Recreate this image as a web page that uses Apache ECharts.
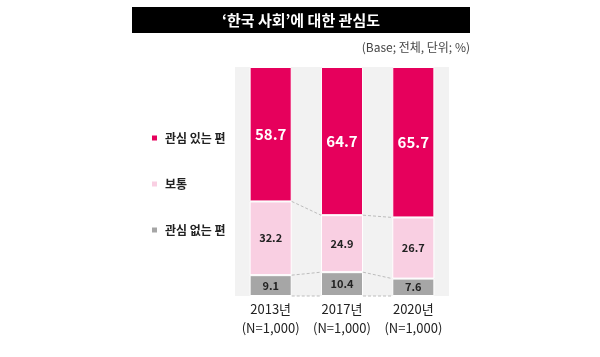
<!DOCTYPE html>
<html><head><meta charset="utf-8">
<script src="https://cdn.jsdelivr.net/npm/echarts@6/dist/echarts.min.js"></script>
<style>html,body{margin:0;padding:0;background:#fff}#c{width:600px;height:357px}</style>
</head><body><div id="c"></div>
<script>
const categories = ['2013년\n(N=1,000)', '2017년\n(N=1,000)', '2020년\n(N=1,000)'];
const seriesNames = ['관심 있는 편', '보통', '관심 없는 편'];
const interested = [58.7, 64.7, 65.7];
const neutral = [32.2, 24.9, 26.7];
const notInterested = [9.1, 10.4, 7.6];
const titleText = '‘한국 사회’에 대한 관심도';
const subText = '(Base; 전체, 단위; %)';

const RED = '#E6005C', PINK = '#F9CFE2', GRAY = '#A6A6A6';
const FONT = '"Noto Sans CJK KR", "Noto Sans", sans-serif';

const chart = echarts.init(document.getElementById('c'));

function connectors(params, api) {
  const i = params.dataIndex;
  if (i >= categories.length - 1) return null;
  const band = api.size([1, 0])[0];
  const half = band * 0.59 / 2;
  const lv = k => [0, notInterested[k], notInterested[k] + neutral[k]];
  const a = lv(i), b = lv(i + 1);
  const children = a.map((v, j) => {
    const p1 = api.coord([i, v]);
    const p2 = api.coord([i + 1, b[j]]);
    return {
      type: 'line',
      shape: { x1: p1[0] + half, y1: p1[1], x2: p2[0] - half, y2: p2[1] },
      style: { stroke: '#BDBDBD', lineWidth: 1, lineDash: [3, 2] }
    };
  });
  return { type: 'group', children };
}

const segLabel = (color, size) => ({
  show: true, position: 'inside', color: color, fontSize: size,
  fontWeight: 'bold', fontFamily: FONT, formatter: p => p.value.toFixed(1)
});

chart.setOption({
  animation: false,
  textStyle: { fontFamily: FONT },
  graphic: [
    { type: 'rect', shape: { x: 132, y: 7, width: 338, height: 26 }, style: { fill: '#000' } },
    { type: 'text', x: 301, y: 20, style: { text: titleText, fill: '#fff', font: 'bold 15px ' + FONT, align: 'center', verticalAlign: 'middle' } },
    { type: 'text', x: 470, y: 47, style: { text: subText, fill: '#444', font: '12px ' + FONT, align: 'right', verticalAlign: 'middle' } }
  ],
  legend: {
    orient: 'vertical', left: 145, top: 127, itemGap: 34,
    itemWidth: 7, itemHeight: 7, icon: 'rect',
    data: seriesNames,
    textStyle: { fontSize: 12, fontWeight: 'bold', color: '#222', fontFamily: FONT, padding: [0, 0, 0, 2] }
  },
  grid: { left: 235, right: 151, top: 67, bottom: 61, show: true, backgroundColor: '#F2F2F2', borderWidth: 0 },
  xAxis: {
    type: 'category', data: categories,
    axisLine: { show: false }, axisTick: { show: false },
    axisLabel: { interval: 0, color: '#222', fontSize: 13, lineHeight: 19, margin: 4, fontFamily: FONT }
  },
  yAxis: { type: 'value', min: 0, max: 100, show: false, splitLine: { show: false } },
  series: [
    { name: seriesNames[2], type: 'bar', stack: 's', barWidth: '59%', data: notInterested,
      itemStyle: { color: GRAY, borderColor: '#fff', borderWidth: 1 }, label: segLabel('#222', 11) },
    { name: seriesNames[1], type: 'bar', stack: 's', data: neutral,
      itemStyle: { color: PINK, borderColor: '#fff', borderWidth: 1 }, label: segLabel('#222', 11) },
    { name: seriesNames[0], type: 'bar', stack: 's', data: interested,
      itemStyle: { color: RED, borderColor: '#fff', borderWidth: 1 }, label: segLabel('#fff', 15) },
    { type: 'custom', renderItem: connectors, data: categories.map((c, i) => i), silent: true, z: 1 }
  ]
});
</script></body></html>
